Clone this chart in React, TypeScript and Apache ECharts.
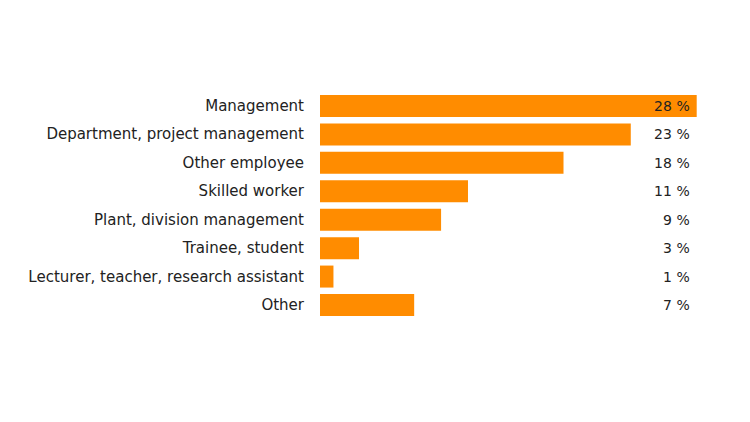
import React, { useEffect, useRef } from "react";
import * as echarts from "echarts";

const categories = [
  "Management",
  "Department, project management",
  "Other employee",
  "Skilled worker",
  "Plant, division management",
  "Trainee, student",
  "Lecturer, teacher, research assistant",
  "Other",
];
const values = [28, 23.1, 18.1, 11.0, 9.0, 2.9, 1.0, 7.0];
const valueLabels = ["28 %", "23 %", "18 %", "11 %", "9 %", "3 %", "1 %", "7 %"];

export default function App() {
  const ref = useRef<HTMLDivElement>(null);
  useEffect(() => {
    if (!ref.current) return;
    const chart = echarts.init(ref.current, undefined, { renderer: "svg" });
    const font = "DejaVu Sans";
    chart.setOption({
      animation: false,
      backgroundColor: "#ffffff",
      grid: { left: 320, right: 53.3, top: 91.8, height: 227.4, containLabel: false },
      xAxis: {
        type: "value",
        min: 0,
        max: 28,
        show: false,
      },
      yAxis: [
        {
          type: "category",
          data: categories,
          inverse: true,
          axisLine: { show: false },
          axisTick: { show: false },
          splitLine: { show: false },
          axisLabel: {
            margin: 16,
            color: "#222222",
            fontSize: 15,
            fontFamily: font,
          },
        },
        {
          type: "category",
          data: valueLabels,
          inverse: true,
          position: "right",
          z: 10,
          axisLine: { show: false },
          axisTick: { show: false },
          splitLine: { show: false },
          axisLabel: {
            inside: true,
            margin: 7,
            color: "#222222",
            fontSize: 14,
            fontFamily: font,
          },
        },
      ],
      series: [
        {
          type: "bar",
          data: values,
          barWidth: 22,
          itemStyle: { color: "#FF8C00" },
          yAxisIndex: 0,
          z: 2,
        },
      ],
    });
    return () => chart.dispose();
  }, []);
  return (
    <div
      ref={ref}
      style={{ position: "fixed", left: 0, top: 0, width: 750, height: 422 }}
    />
  );
}
